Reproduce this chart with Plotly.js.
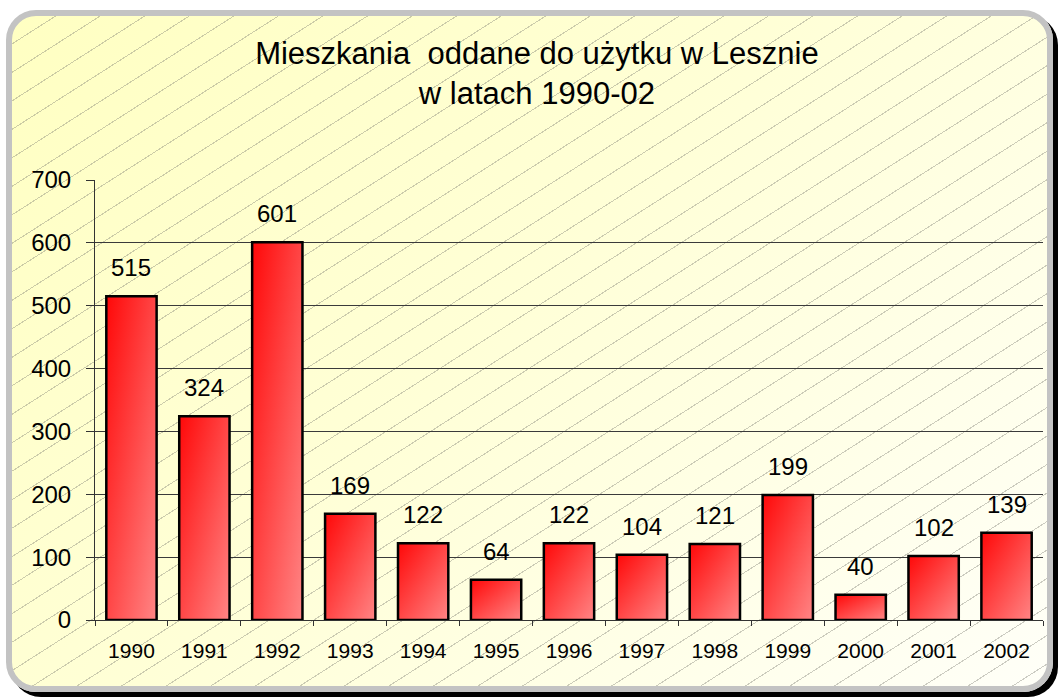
<!DOCTYPE html>
<html>
<head>
<meta charset="utf-8">
<script src="https://cdn.plot.ly/plotly-3.0.1.min.js"></script>
<style>
  html, body { margin:0; padding:0; background:#ffffff; overflow:hidden; }
  #frame {
    position:absolute; left:6px; top:10px; width:1035px; height:670px;
    border:6px solid #c3c3c3; border-radius:30px;
    box-shadow: 5px 5px 0 #000;
    background:
      repeating-linear-gradient(147.4deg, rgba(0,0,0,0) 0px, rgba(0,0,0,0) 23px, rgba(120,120,110,0.38) 23px, rgba(120,120,110,0.38) 24px),
      linear-gradient(135deg, #ffffc2 0%, #ffffd6 45%, #fffff8 100%);
  }
  #chart { position:absolute; left:0; top:0; width:1059px; height:697px; }
</style>
</head>
<body>
<div id="frame"></div>
<div id="chart"></div>
<script>
const years = ['1990','1991','1992','1993','1994','1995','1996','1997','1998','1999','2000','2001','2002'];
const values = [515, 324, 601, 169, 122, 64, 122, 104, 121, 199, 40, 102, 139];
const titleText = 'Mieszkania  oddane do użytku w Lesznie<br>w latach 1990-02';

const FONT = 'Liberation Sans, Arial, sans-serif';

const trace = {
  type: 'bar',
  x: years,
  y: values,
  marker: {
    color: '#ff4848',
    line: { color: '#000000', width: 2.5 }
  },
  hoverinfo: 'x+y'
};

const annotations = years.map((yr, i) => ({
  x: i, y: values[i], xref: 'x', yref: 'y',
  text: String(values[i]), showarrow: false,
  yanchor: 'bottom', yshift: 13,
  font: { family: FONT, size: 24, color: '#000' }
}));

const layout = {
  width: 1059, height: 697,
  paper_bgcolor: 'rgba(0,0,0,0)',
  plot_bgcolor: 'rgba(0,0,0,0)',
  margin: { l: 95, r: 16, t: 180, b: 77 },
  showlegend: false,
  bargap: 0.31,
  font: { family: FONT, color: '#000' },
  title: {
    text: titleText,
    x: 0.507, xanchor: 'center',
    y: 0.908, yanchor: 'top',
    font: { family: FONT, size: 31, color: '#000' }
  },
  xaxis: {
    type: 'category',
    range: [-0.5, 12.5],
    autorange: false,
    showline: true, linecolor: '#333', linewidth: 1,
    ticks: 'outside', tickson: 'boundaries', ticklen: 5, tickcolor: '#333',
    showgrid: false,
    tickangle: 0,
    tickfont: { family: FONT, size: 21, color: '#000' },
    ticklabelstandoff: 12
  },
  yaxis: {
    range: [0, 700], autorange: false, dtick: 100,
    showline: true, linecolor: '#333', linewidth: 1,
    ticks: 'outside', ticklen: 8, tickcolor: '#333',
    showgrid: true, gridcolor: '#3a3a3a', gridwidth: 1,
    zeroline: false,
    tickfont: { family: FONT, size: 24, color: '#000' },
    ticklabelstandoff: 10
  },
  annotations: annotations
};

Plotly.newPlot('chart', [trace], layout, { displayModeBar: false, staticPlot: true }).then(gd => {
  const svg = gd.querySelector('svg.main-svg');
  const ns = 'http://www.w3.org/2000/svg';
  let defs = svg.querySelector('defs');
  if (!defs) { defs = document.createElementNS(ns, 'defs'); svg.insertBefore(defs, svg.firstChild); }
  const grad = document.createElementNS(ns, 'linearGradient');
  grad.setAttribute('id', 'barGrad');
  grad.setAttribute('x1', '0'); grad.setAttribute('y1', '0');
  grad.setAttribute('x2', '1'); grad.setAttribute('y2', '1');
  [['0%', '#ff0808'], ['100%', '#ff8585']].forEach(([o, c]) => {
    const s = document.createElementNS(ns, 'stop');
    s.setAttribute('offset', o); s.setAttribute('stop-color', c);
    grad.appendChild(s);
  });
  defs.appendChild(grad);
  gd.querySelectorAll('.bars .point path').forEach(p => {
    p.style.fill = 'url(#barGrad)';
  });
});
</script>
</body>
</html>
